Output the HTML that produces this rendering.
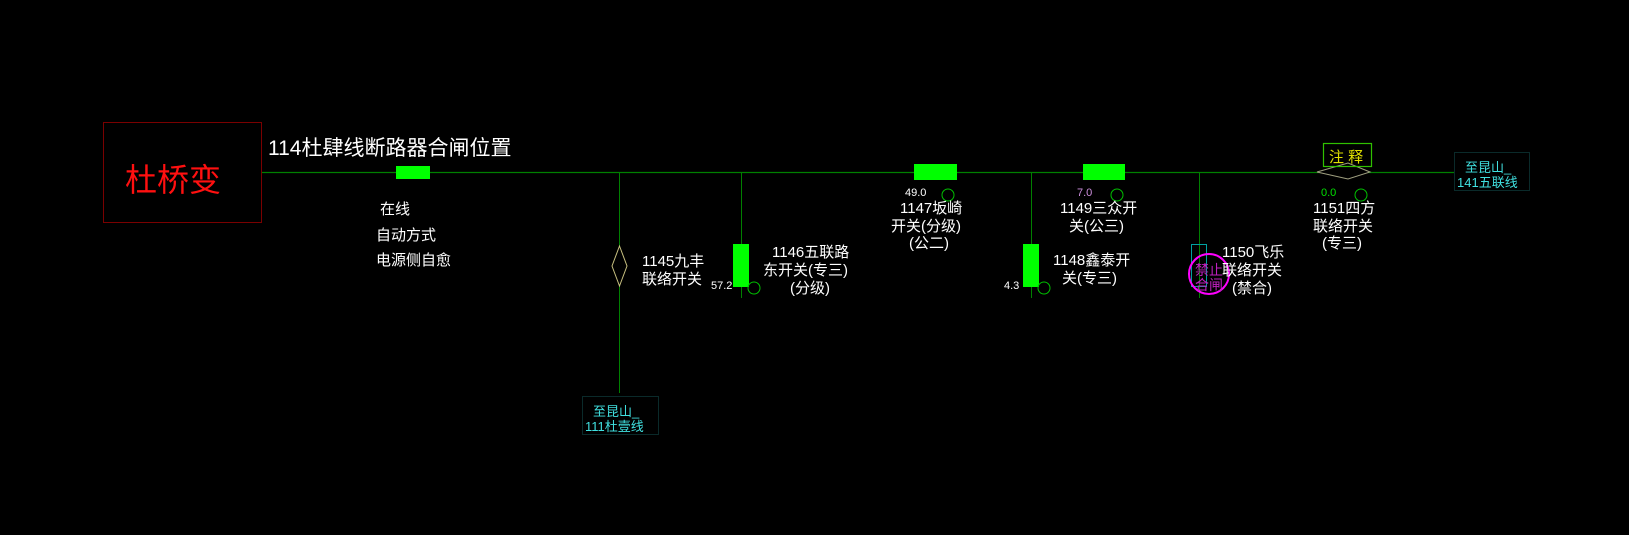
<!DOCTYPE html>
<html><head><meta charset="utf-8"><style>
html,body{margin:0;padding:0;background:#000;}
svg{display:block}
text{font-family:"Liberation Sans","Noto Sans CJK SC",sans-serif;}
</style></head><body>
<svg width="1629" height="535" viewBox="0 0 1629 535" xmlns="http://www.w3.org/2000/svg">
<rect width="1629" height="535" fill="#000"/>
<rect x="103.5" y="122.5" width="158" height="100" fill="none" stroke="#7a0000" stroke-width="1"/>
<text x="125" y="191" font-size="32" fill="#ff1010">杜桥变</text>
<text x="268" y="155" font-size="21" fill="#fff">114杜肆线断路器合闸位置</text>
<line x1="262" y1="172.5" x2="1455" y2="172.5" stroke="#008000" stroke-width="1.2"/>
<rect x="396" y="166" width="34" height="13" fill="#00ff00"/>
<text x="380" y="214" font-size="15" fill="#fff">在线</text>
<text x="376" y="240" font-size="15" fill="#fff">自动方式</text>
<text x="376" y="265" font-size="15" fill="#fff">电源侧自愈</text>
<line x1="619.5" y1="172" x2="619.5" y2="393" stroke="#008000" stroke-width="1"/>
<line x1="741.5" y1="172" x2="741.5" y2="298" stroke="#008000" stroke-width="1"/>
<line x1="1031.5" y1="172" x2="1031.5" y2="298" stroke="#008000" stroke-width="1"/>
<line x1="1199.5" y1="172" x2="1199.5" y2="298" stroke="#008000" stroke-width="1"/>
<polygon points="619.5,246 627,266 619.5,286 612,266" fill="#000" stroke="#c8c080" stroke-width="1"/>
<text x="642" y="266" font-size="15" fill="#fff">1145九丰</text>
<text x="642" y="284" font-size="15" fill="#fff">联络开关</text>
<rect x="733" y="244" width="16" height="43" fill="#00ff00"/>
<circle cx="754" cy="288" r="6" fill="none" stroke="#00c000" stroke-width="1"/>
<text x="711" y="289" font-size="11" fill="#fff">57.2</text>
<text x="772" y="257" font-size="15" fill="#fff">1146五联路</text>
<text x="763" y="275" font-size="15" fill="#fff">东开关(专三)</text>
<text x="790" y="293" font-size="15" fill="#fff">(分级)</text>
<rect x="914" y="164" width="43" height="16" fill="#00ff00"/>
<circle cx="948" cy="195" r="6" fill="none" stroke="#00c000" stroke-width="1"/>
<text x="905" y="196" font-size="11" fill="#fff">49.0</text>
<text x="900" y="213" font-size="15" fill="#fff">1147坂崎</text>
<text x="891" y="231" font-size="15" fill="#fff">开关(分级)</text>
<text x="909" y="248" font-size="15" fill="#fff">(公二)</text>
<rect x="1083" y="164" width="42" height="16" fill="#00ff00"/>
<circle cx="1117" cy="195" r="6" fill="none" stroke="#00c000" stroke-width="1"/>
<text x="1077" y="196" font-size="11" fill="#d090e0">7.0</text>
<text x="1060" y="213" font-size="15" fill="#fff">1149三众开</text>
<text x="1069" y="231" font-size="15" fill="#fff">关(公三)</text>
<rect x="1023" y="244" width="16" height="43" fill="#00ff00"/>
<circle cx="1044" cy="288" r="6" fill="none" stroke="#00c000" stroke-width="1"/>
<text x="1004" y="289" font-size="11" fill="#fff">4.3</text>
<text x="1053" y="265" font-size="15" fill="#fff">1148鑫泰开</text>
<text x="1062" y="283" font-size="15" fill="#fff">关(专三)</text>
<rect x="1191.5" y="244.5" width="15" height="42" fill="none" stroke="#00a0a0" stroke-width="1"/>
<circle cx="1209" cy="274" r="20" fill="none" stroke="#ff00ff" stroke-width="2"/>
<text x="1195" y="275" font-size="14" fill="#c020c0">禁止</text>
<text x="1195" y="290" font-size="14" fill="#c020c0">合闸</text>
<text x="1222" y="257" font-size="15" fill="#fff">1150飞乐</text>
<text x="1222" y="275" font-size="15" fill="#fff">联络开关</text>
<text x="1232" y="293" font-size="15" fill="#fff">(禁合)</text>
<polygon points="1317,172 1348,163 1370,172 1348,179" fill="#000" stroke="#a0a080" stroke-width="1"/>
<rect x="1323.5" y="143.5" width="48" height="23" fill="none" stroke="#30c000" stroke-width="1.2"/>
<text x="1329" y="162" font-size="15" fill="#e0e000">注 释</text>
<circle cx="1361" cy="195" r="6" fill="none" stroke="#00c000" stroke-width="1"/>
<text x="1321" y="196" font-size="11" fill="#00e000">0.0</text>
<text x="1313" y="213" font-size="15" fill="#fff">1151四方</text>
<text x="1313" y="231" font-size="15" fill="#fff">联络开关</text>
<text x="1322" y="248" font-size="15" fill="#fff">(专三)</text>
<rect x="1454.5" y="152.5" width="75" height="38" fill="#000" stroke="#0a2a2a" stroke-width="1"/>
<text x="1465" y="172" font-size="13" fill="#40e0e0">至昆山_</text>
<text x="1457" y="187" font-size="13" fill="#40e0e0">141五联线</text>
<rect x="582.5" y="396.5" width="76" height="38" fill="#000" stroke="#0a2a2a" stroke-width="1"/>
<text x="593" y="416" font-size="13" fill="#40e0e0">至昆山_</text>
<text x="585" y="431" font-size="13" fill="#40e0e0">111杜壹线</text>
</svg>
</body></html>
